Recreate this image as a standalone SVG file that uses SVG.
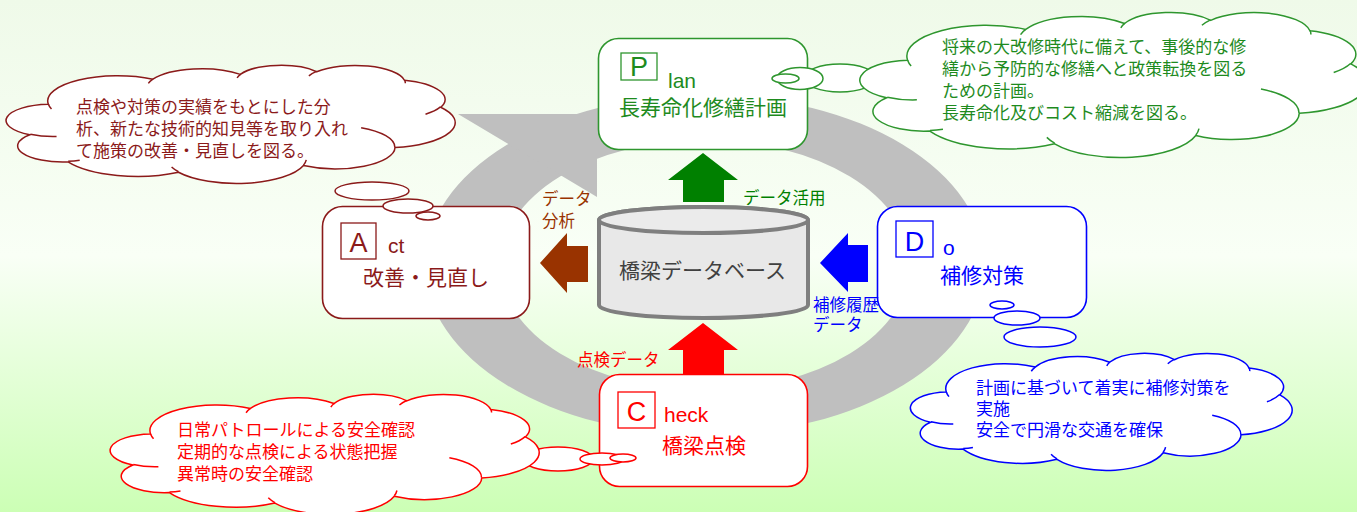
<svg xmlns="http://www.w3.org/2000/svg" width="1357" height="512" viewBox="0 0 1357 512">
<defs>
<linearGradient id="bg" x1="0" y1="0" x2="0" y2="1">
<stop offset="0" stop-color="#EFFAE9"/>
<stop offset="0.5" stop-color="#F9FFF6"/>
<stop offset="1" stop-color="#CCFFB5"/>
</linearGradient>
<path id="cloud" vector-effect="non-scaling-stroke" d="M3900,14370 A6753,9190 0 0 1 14005,5202 A5333,7267 0 0 1 22455,3431 A4365,5945 0 0 1 29832,2479 A4857,6595 0 0 1 38317,5575 A5333,7273 0 0 1 41817,15458 A6775,9220 0 0 1 37403,30202 A5785,7867 0 0 1 28555,36812 A6752,9215 0 0 1 16479,39263 A7720,10543 0 0 1 5803,35470 A4360,5918 0 0 1 2112,25548 A4345,5945 0 0 1 3900,14370 Z"/>
<path id="cloudIn" vector-effect="non-scaling-stroke" fill="none" d="M4693,26177 A4345,5945 0 0 1 2160,25380 M6928,34899 A4360,5918 0 0 1 5819,35281 M16478,39090 A6752,9215 0 0 1 15810,37350 M28827,34751 A6752,9215 0 0 1 28560,36660 M34129,22954 A5785,7867 0 0 1 37381,30090 M41798,15354 A5333,7273 0 0 1 40350,18030 M38324,5426 A4857,6595 0 0 1 38400,6690 M29078,3952 A4857,6595 0 0 1 29820,2339 M22141,4720 A4365,5945 0 0 1 22500,3330 M13563,6736 A5333,7267 0 0 1 14005,5202 M4203,16110 A6753,9190 0 0 1 3900,14370"/>
</defs>
<style>
.cl{fill:#FFFFFF;stroke-width:1.5}
.ci{fill:none;stroke-width:1.5}
.bub{fill:#FFFFFF;stroke-width:1.5}
.box{fill:#FFFFFF;stroke-width:1.6}
.lbox{fill:none;stroke-width:1.3}
.jp{font-family:'Noto Sans CJK JP','Noto Sans CJK SC',sans-serif}
.lat{font-family:'Liberation Sans',Arial,sans-serif}
.g{fill:#1E8B1E}.gs{stroke:#2E962E}
.m{fill:#8B1A1A}.ms{stroke:#8B1A1A}
.b{fill:#0000FF}.bs{stroke:#0000FF}
.r{fill:#FF0000}.rs{stroke:#FF0000}
.note{font-size:17px}
.lbl{font-size:16.5px}
.big{font-size:21px}
.cap{font-size:27px}
</style>
<rect x="0" y="0" width="1357" height="512" fill="url(#bg)"/>

<g id="cycle" fill="#BFBFBF">
<path fill-rule="evenodd" d="M425,265 A280,170 0 1 0 985,265 A280,170 0 1 0 425,265 Z M500,265 A205,125 0 1 0 910,265 A205,125 0 1 0 500,265 Z"/>
<polygon points="458,114 700,114 700,140 597,140 597,197"/>
</g>

<g id="plan">
<rect class="box gs" x="598.5" y="38.5" width="209" height="111" rx="20"/>
<rect class="lbox gs" x="621" y="53" width="36" height="27"/>
<text class="lat cap g" x="639" y="76" text-anchor="middle">P</text>
<text class="lat big g" x="668" y="88">lan</text>
<text class="jp big g" x="619" y="115">長寿命化修繕計画</text>
</g>

<g id="act">
<rect class="box ms" x="322.5" y="206.5" width="207" height="112" rx="20"/>
<rect class="lbox ms" x="341" y="223" width="35" height="36"/>
<text class="lat cap m" x="358.5" y="252" text-anchor="middle">A</text>
<text class="lat big m" x="388" y="253">ct</text>
<text class="jp big m" x="363" y="285">改善・見直し</text>
</g>

<g id="do">
<rect class="box bs" x="877.5" y="206.5" width="209" height="111" rx="20"/>
<rect class="lbox bs" x="896" y="221" width="37" height="36"/>
<text class="lat cap b" x="914.5" y="251" text-anchor="middle">D</text>
<text class="lat big b" x="943" y="255">o</text>
<text class="jp big b" x="940" y="283">補修対策</text>
</g>

<g id="check">
<rect class="box rs" x="599.5" y="374.5" width="208" height="112" rx="20"/>
<rect class="lbox rs" x="618" y="392" width="37" height="36"/>
<text class="lat cap r" x="636.5" y="421" text-anchor="middle">C</text>
<text class="lat big r" x="664" y="422">heck</text>
<text class="jp big r" x="662" y="453">橋梁点検</text>
</g>

<g id="database">
<path d="M599,220 V305 A104.5,13 0 0 0 808,305 V220 A104.5,13 0 0 0 599,220 Z" fill="#E8E8E8" stroke="#7F7F7F" stroke-width="4"/>
<ellipse cx="703.5" cy="220" rx="104.5" ry="13" fill="#EBEBEB" stroke="#7F7F7F" stroke-width="4"/>
<text class="jp big" x="619" y="278" fill="#404040">橋梁データベース</text>
</g>

<g id="plan-note">
<ellipse class="bub gs" cx="840" cy="78" rx="36" ry="14"/>
<ellipse class="bub gs" cx="800" cy="78.5" rx="23" ry="11"/>
<ellipse class="bub gs" cx="785.5" cy="78.5" rx="13.5" ry="4.5"/>
<g transform="translate(862,12) scale(0.011690,0.0033565)">
<use href="#cloud" class="cl gs"/>
<use href="#cloudIn" class="ci gs"/>
</g>
<text class="jp note g" x="942" y="53">将来の大改修時代に備えて、事後的な修</text>
<text class="jp note g" x="942" y="75">繕から予防的な修繕へと政策転換を図る</text>
<text class="jp note g" x="942" y="97">ための計画。</text>
<text class="jp note g" x="942" y="119">長寿命化及びコスト縮減を図る。</text>
</g>

<g id="act-note">
<ellipse class="bub ms" cx="372" cy="191" rx="37" ry="9"/>
<ellipse class="bub ms" cx="408" cy="206" rx="25" ry="7"/>
<ellipse class="bub ms" cx="428" cy="216" rx="12" ry="4"/>
<g transform="translate(8,65) scale(0.010347,0.0027315)">
<use href="#cloud" class="cl ms"/>
<use href="#cloudIn" class="ci ms"/>
</g>
<text class="jp note m" x="76" y="112.5">点検や対策の実績をもとにした分</text>
<text class="jp note m" x="76" y="134.5">析、新たな技術的知見等を取り入れ</text>
<text class="jp note m" x="76" y="156.5">て施策の改善・見直しを図る。</text>
</g>

<g id="do-note">
<ellipse class="bub bs" cx="1040" cy="337" rx="36" ry="10"/>
<ellipse class="bub bs" cx="1017" cy="318" rx="23" ry="7"/>
<ellipse class="bub bs" cx="1002" cy="305" rx="12" ry="4"/>
<g transform="translate(912,353) scale(0.0087963,0.0027083)">
<use href="#cloud" class="cl bs"/>
<use href="#cloudIn" class="ci bs"/>
</g>
<text class="jp note b" x="976" y="394">計画に基づいて着実に補修対策を</text>
<text class="jp note b" x="976" y="415">実施</text>
<text class="jp note b" x="976" y="436">安全で円滑な交通を確保</text>
</g>

<g id="check-note">
<ellipse class="bub rs" cx="558" cy="459" rx="35" ry="12"/>
<ellipse class="bub rs" cx="602" cy="459" rx="22" ry="6"/>
<ellipse class="bub rs" cx="623" cy="458" rx="13" ry="4"/>
<g transform="translate(112,394) scale(0.0098843,0.0027778)">
<use href="#cloud" class="cl rs"/>
<use href="#cloudIn" class="ci rs"/>
</g>
<text class="jp note r" x="177" y="436">日常パトロールによる安全確認</text>
<text class="jp note r" x="177" y="458">定期的な点検による状態把握</text>
<text class="jp note r" x="177" y="480">異常時の安全確認</text>
</g>

<g id="connectors">
<polygon fill="#008000" points="703,153 738,180 724,180 724,202 683,202 683,180 668,180"/>
<polygon fill="#FF0000" points="703,323 738,350 724,350 724,375 683,375 683,350 668,350"/>
<polygon fill="#993300" points="540,263 567,233 567,246 588,246 588,282 567,282 567,293"/>
<polygon fill="#0000FF" points="820,263 848,233 848,245 868,245 868,282 848,282 848,292"/>
<text class="jp lbl" fill="#008000" x="743" y="204">データ活用</text>
<text class="jp lbl" fill="#993300" x="542" y="205">データ</text>
<text class="jp lbl" fill="#993300" x="542" y="227">分析</text>
<text class="jp lbl" fill="#FF0000" x="577" y="366">点検データ</text>
<text class="jp lbl" fill="#0000FF" x="813" y="311">補修履歴</text>
<text class="jp lbl" fill="#0000FF" x="813" y="331">データ</text>
</g>
</svg>
